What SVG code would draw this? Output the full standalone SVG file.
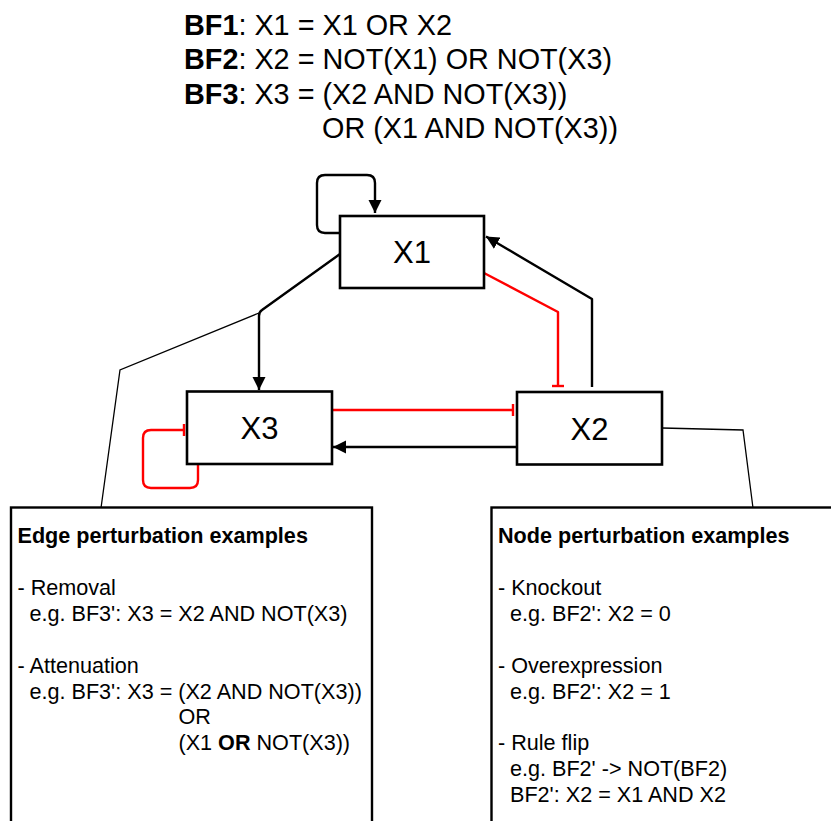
<svg xmlns="http://www.w3.org/2000/svg" width="831" height="821" viewBox="0 0 831 821">
<style>
text{font-family:"Liberation Sans",Arial,Helvetica,sans-serif;fill:#000}
.node{fill:#fff;stroke:#000;stroke-width:2.6}
.lbl{font-size:31px;text-anchor:middle}
.box{fill:#fff;stroke:#000;stroke-width:2.4}
.eq{font-size:28.8px}
.bt{font-size:21.6px}
.b{font-weight:bold}
.act{fill:none;stroke:#000;stroke-width:2.4;stroke-linejoin:round}
.inh{fill:none;stroke:#f00;stroke-width:2.4;stroke-linejoin:round}
.call{fill:none;stroke:#000;stroke-width:1.3}
</style>
<defs>
<marker id="arr" markerUnits="userSpaceOnUse" markerWidth="14" markerHeight="14" viewBox="0 0 14 14" refX="13" refY="7" orient="auto">
<path d="M0,0.5 L13,7 L0,13.5 z" fill="#000"/>
</marker>
<marker id="tee" markerUnits="userSpaceOnUse" markerWidth="4" markerHeight="14" viewBox="0 0 4 14" refX="2" refY="7" orient="auto">
<rect x="0.8" y="1" width="2.4" height="12" fill="#f00"/>
</marker>
</defs>
<g id="equations">
<text class="eq" x="184" y="34.5"><tspan class="b">BF1</tspan>: X1 = X1 OR X2</text>
<text class="eq" x="184" y="69"><tspan class="b">BF2</tspan>: X2 = NOT(X1) OR NOT(X3)</text>
<text class="eq" x="184" y="103.5"><tspan class="b">BF3</tspan>: X3 = (X2 AND NOT(X3))</text>
<text class="eq" x="322" y="138">OR (X1 AND NOT(X3))</text>
</g>
<g id="connectors">
<path class="act" d="M340,233 H325 Q317,233 317,225 V183 Q317,175 325,175 H367 Q375,175 375,183 V213" marker-end="url(#arr)"/>
<path class="act" d="M340,254 L262,310 Q259,312 259,316 V390" marker-end="url(#arr)"/>
<path class="inh" d="M484,273 L558,312 V386" marker-end="url(#tee)"/>
<path class="act" d="M592,387 V299 L486,236.5" marker-end="url(#arr)"/>
<path class="inh" d="M332,410 H513" marker-end="url(#tee)"/>
<path class="act" d="M517,447 H333" marker-end="url(#arr)"/>
<path class="inh" d="M198,464 V480 Q198,488 190,488 H151 Q143,488 143,480 V438 Q143,430 151,430 H184" marker-end="url(#tee)"/>
<path class="call" d="M259,313 L120,370 L101,508"/>
<path class="call" d="M662,428 L743,430 L753,508"/>
</g>
<g id="X1">
<rect class="node" x="340" y="216" width="144" height="72"/>
<text class="lbl" x="412" y="263">X1</text>
</g>
<g id="X3">
<rect class="node" x="187" y="391.5" width="145" height="72.5"/>
<text class="lbl" x="259.5" y="439">X3</text>
</g>
<g id="X2">
<rect class="node" x="517" y="392" width="145" height="72.5"/>
<text class="lbl" x="589.5" y="439.5">X2</text>
</g>
<g id="edge-box">
<rect class="box" x="11" y="507.5" width="361" height="340"/>
<text class="bt" x="17.5" y="543"><tspan class="b">Edge perturbation examples</tspan></text>
<text class="bt" x="17.5" y="594.8">- Removal</text>
<text class="bt" x="29.5" y="620.7">e.g. BF3': X3 = X2 AND NOT(X3)</text>
<text class="bt" x="17.5" y="672.6">- Attenuation</text>
<text class="bt" x="29.5" y="698.5">e.g. BF3': X3 = (X2 AND NOT(X3))</text>
<text class="bt" x="178.5" y="724.4">OR</text>
<text class="bt" x="178.5" y="750.3">(X1 <tspan class="b">OR</tspan> NOT(X3))</text>
</g>
<g id="node-box">
<rect class="box" x="491.5" y="507.5" width="360" height="340"/>
<text class="bt" x="498" y="543"><tspan class="b">Node perturbation examples</tspan></text>
<text class="bt" x="498" y="594.8">- Knockout</text>
<text class="bt" x="510" y="620.7">e.g. BF2': X2 = 0</text>
<text class="bt" x="498" y="672.6">- Overexpression</text>
<text class="bt" x="510" y="698.5">e.g. BF2': X2 = 1</text>
<text class="bt" x="498" y="750.3">- Rule flip</text>
<text class="bt" x="510" y="776.2">e.g. BF2' -&gt; NOT(BF2)</text>
<text class="bt" x="510" y="802.1">BF2': X2 = X1 AND X2</text>
</g>
</svg>
